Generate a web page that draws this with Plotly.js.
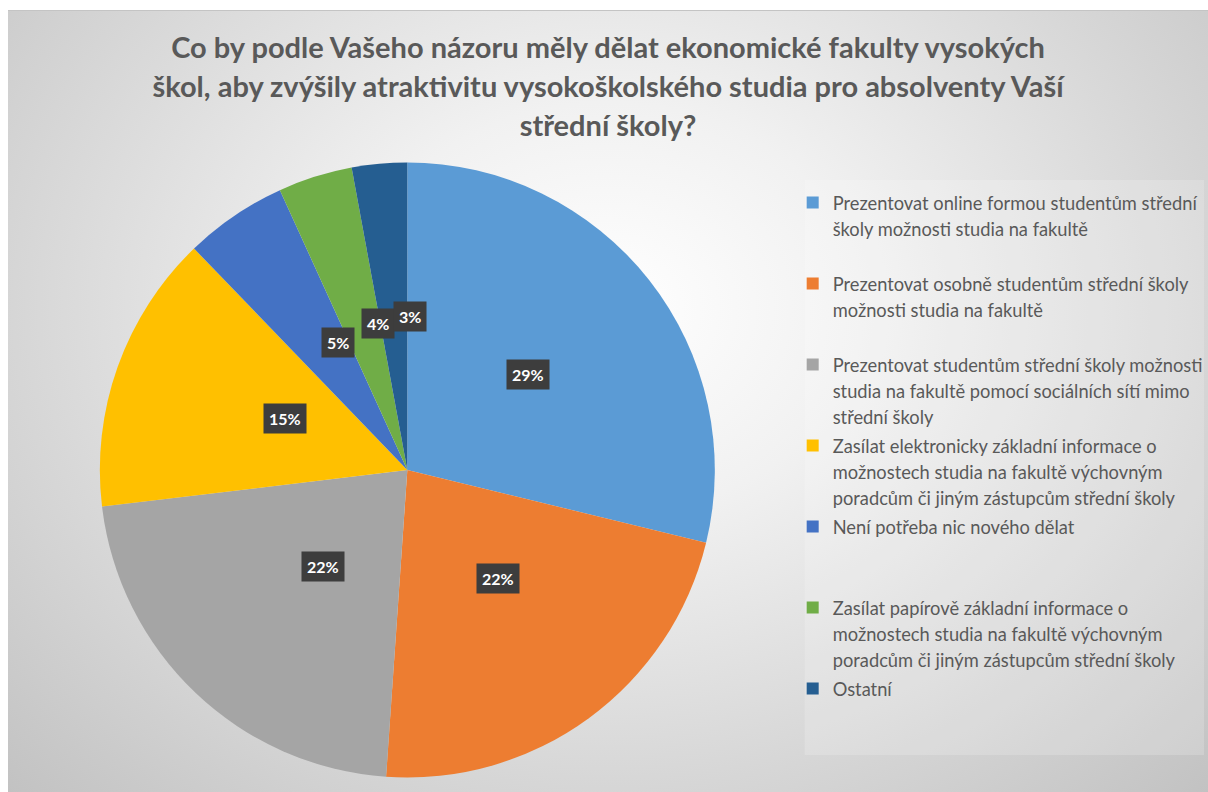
<!DOCTYPE html>
<html>
<head>
<meta charset="utf-8">
<script src="https://cdn.plot.ly/plotly-3.0.1.min.js"></script>
<style>
  body { margin: 0; background: #ffffff; }
  #pozadi {
    position: absolute; left: 8px; top: 10px; width: 1200px; height: 782px;
    background: radial-gradient(ellipse farthest-corner at 50% 38%, #ffffff 0%, #f1f1f1 30%, #d6d6d6 70%, #c2c2c2 100%);
    border-top: 1px solid #c4c4c4;
  }
  #graf { position: absolute; left: 0; top: 0; width: 1208px; height: 792px; }
</style>
</head>
<body>
<div id="pozadi"></div>
<div id="graf"></div>
<script>
const moznosti = [
  'Prezentovat online formou studentům střední<br>školy možnosti studia na fakultě',
  'Prezentovat osobně studentům střední školy<br>možnosti studia na fakultě',
  'Prezentovat studentům střední školy možnosti<br>studia na fakultě pomocí sociálních sítí mimo<br>střední školy',
  'Zasílat elektronicky základní informace o<br>možnostech studia na fakultě výchovným<br>poradcům či jiným zástupcům střední školy',
  'Není potřeba nic nového dělat',
  'Zasílat papírově základní informace o<br>možnostech studia na fakultě výchovným<br>poradcům či jiným zástupcům střední školy',
  'Ostatní'
];
const podily = [28.8, 22.3, 22.0, 14.7, 5.4, 3.9, 2.9];
const barvy = ['#5B9BD5', '#ED7D31', '#A5A5A5', '#FFC000', '#4472C4', '#70AD47', '#255E91'];

const nadpis = [
  'Co by podle Vašeho názoru měly dělat ekonomické fakulty vysokých',
  'škol, aby zvýšily atraktivitu vysokoškolského studia pro absolventy Vaší',
  'střední školy?'
];

const W = 1208, H = 792;
// kruh: stred a polomer v pixelech
const stredX = 408, stredY = 470, polomer = 308;

// legenda: kazda polozka doplnena na 3 radky, aby mely stejnou vysku
function legendaText(t) {
  const radky = t.split('<br>');
  while (radky.length < 3) radky.push(' ');
  return radky.map(r => `<span style="font-size:18.3px">${r}</span>`).join('<br>');
}
const popisky = moznosti.map(legendaText);

const celkem = podily.reduce((a, b) => a + b, 0);
let kumul = 0;
const anotace = podily.map(v => {
  const stred = (kumul + v / 2) / celkem * 2 * Math.PI;
  kumul += v;
  const px = stredX + 0.5 * polomer * Math.sin(stred);
  const py = stredY - 0.5 * polomer * Math.cos(stred);
  return {
    x: px / W, y: 1 - py / H, xref: 'paper', yref: 'paper',
    text: `${Math.round(v / celkem * 100)}%`,
    showarrow: false,
    font: { family: 'Lato, sans-serif', size: 16, color: '#ffffff', weight: 700 },
    bgcolor: '#3d3d3d',
    borderpad: 5
  };
});

const kolac = {
  type: 'pie',
  labels: popisky,
  values: podily,
  sort: false,
  direction: 'clockwise',
  rotation: 0,
  textinfo: 'none',
  hoverinfo: 'skip',
  marker: { colors: barvy, line: { width: 0 } },
  domain: {
    x: [(stredX - polomer) / W, (stredX + polomer) / W],
    y: [1 - (stredY + polomer) / H, 1 - (stredY - polomer) / H]
  }
};

const layout = {
  width: W,
  height: H,
  margin: { l: 0, r: 0, t: 0, b: 0 },
  paper_bgcolor: 'rgba(0,0,0,0)',
  plot_bgcolor: 'rgba(0,0,0,0)',
  font: { family: 'Lato, sans-serif', color: '#595959' },
  title: {
    text: nadpis.map(r => `<span style="font-size:29px">${r}</span>`).join('<br>'),
    x: 608 / W,
    xanchor: 'center',
    y: 1 - 58 / H,
    yanchor: 'top',
    yref: 'container',
    font: { family: 'Lato, sans-serif', size: 30, color: '#595959', weight: 700 }
  },
  showlegend: true,
  legend: {
    x: 794 / W,
    xanchor: 'left',
    y: 1 - 183 / H,
    yanchor: 'top',
    valign: 'top',
    bgcolor: 'rgba(0,0,0,0)',
    font: { family: 'Lato, sans-serif', size: 20, color: '#595959' },
    itemclick: false,
    itemdoubleclick: false
  },
  shapes: [{
    type: 'rect', xref: 'paper', yref: 'paper',
    x0: 806 / W, x1: 1206 / W, y0: 1 - 755 / H, y1: 1 - 180 / H,
    fillcolor: 'rgba(255,255,255,0.18)', line: { width: 0 }, layer: 'below'
  }],
  annotations: anotace
};

Plotly.newPlot('graf', [kolac], layout, { displayModeBar: false, staticPlot: true });
</script>
</body>
</html>
